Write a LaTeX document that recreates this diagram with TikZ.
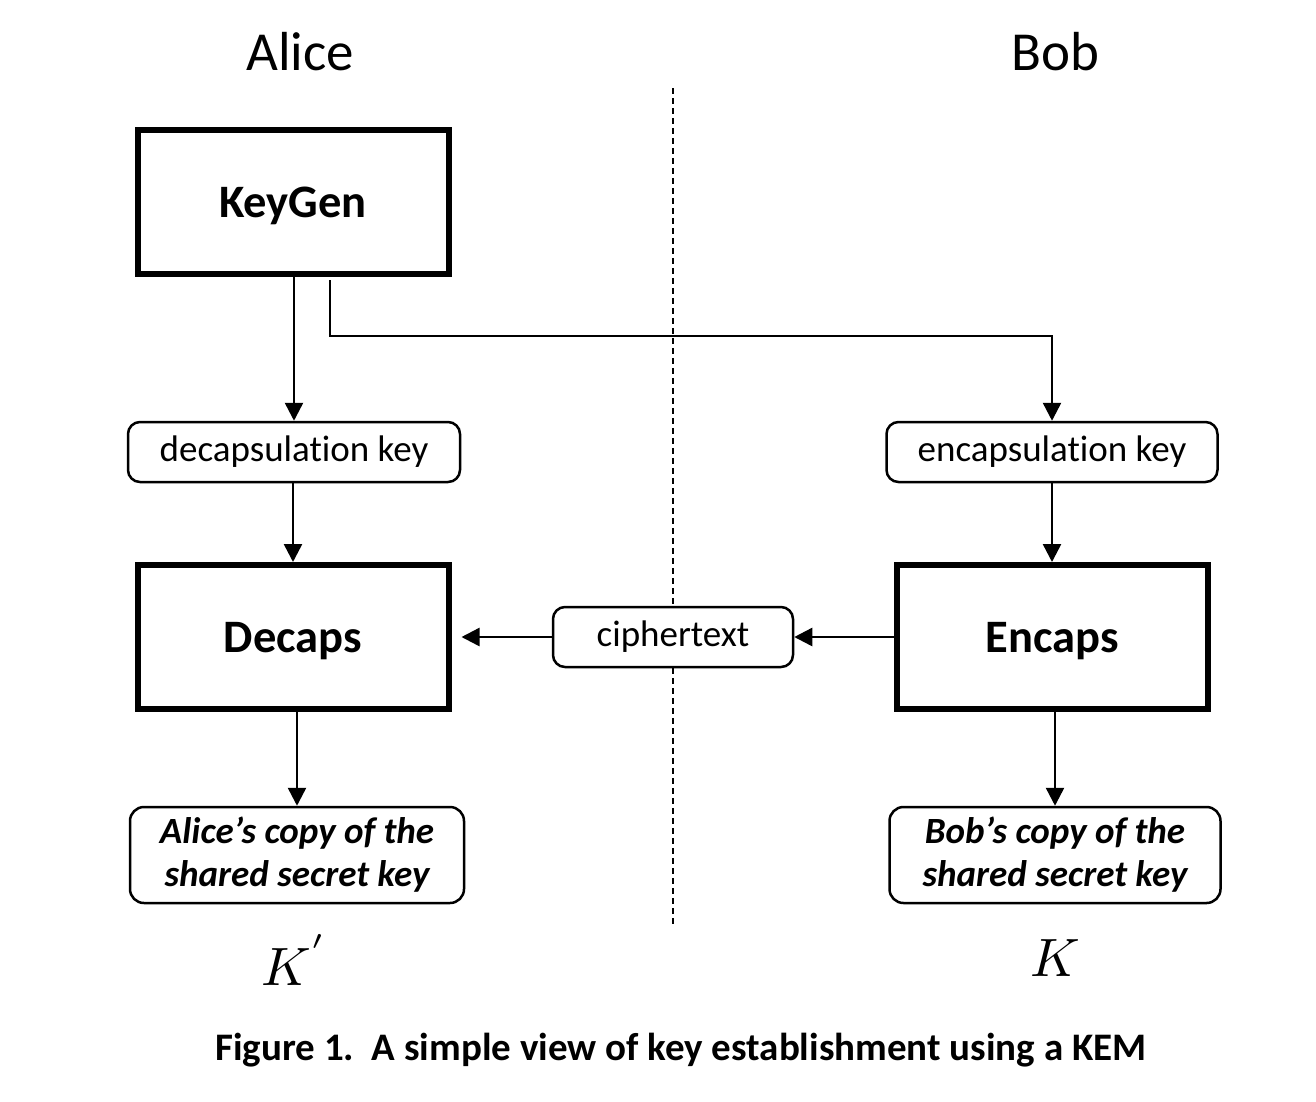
\documentclass[tikz,border=0pt]{standalone}
\usepackage{fontspec}
\setmainfont{Carlito}[Ligatures={NoCommon}]
\usetikzlibrary{arrows.meta}
\begin{document}
\begin{tikzpicture}[x=1pt,y=-1pt,
  bigbox/.style={draw,line width=6pt,minimum width=311pt,minimum height=144pt,inner sep=0pt,text depth=0pt,font=\fontsize{46.5}{52}\selectfont\bfseries},
  keybox/.style={draw,line width=2.5pt,rounded corners=12pt,minimum height=60pt,inner sep=0pt,font=\fontsize{37}{43}\selectfont},
  sharedbox/.style={draw,line width=2.5pt,rounded corners=14pt,minimum height=96pt,inner sep=0pt,align=center,font=\fontsize{37}{43}\selectfont\bfseries\itshape},
  conn/.style={line width=2.5pt,-{Triangle[length=18pt,width=18pt]}},
  party/.style={font=\fontsize{55}{60}\selectfont}
]
\useasboundingbox (0,0) rectangle (1316,1101);
\node[party] (alice) at (300,52) {Alice};
\node[party] (bob) at (1055,52) {Bob};
\coordinate (dtop) at (673,88);
\coordinate (dbot) at (673,925);
\draw[line width=1.5pt,dash pattern=on 6pt off 4pt] (dtop) -- (dbot);

\node[bigbox] (keygen) at (293,202) {KeyGen};
\node[keybox,minimum width=332pt] (dk) at (294,452) {decapsulation key};
\node[keybox,minimum width=331pt] (ek) at (1052,452) {encapsulation key};
\node[bigbox] (decaps) at (293,637) {Decaps};
\node[bigbox] (encaps) at (1052,637) {Encaps};
\node[keybox,fill=white,minimum width=240pt] (ct) at (673,637) {ciphertext};
\node[sharedbox,minimum width=334pt] (as) at (297,855) {Alice’s copy of the\\shared secret key};
\node[sharedbox,minimum width=331pt] (bs) at (1055,855) {Bob’s copy of the\\shared secret key};
\node (kp) at (295,960) {\scalebox{5.4}{$K^{'}$}};
\node (k) at (1055,958) {\scalebox{5.4}{$K$}};
\node (cap) at (681,1050) {\fontsize{39}{44}\selectfont\bfseries Figure 1.\hspace{0.45em}A simple view of key establishment using a KEM};

\draw[conn] (keygen.south -| dk.north) -- (dk.north);
\coordinate (kg2) at (330,280);
\draw[conn] (kg2) |- (ek.north |- 0,336) -- (ek.north);
\draw[conn] (dk.south -| decaps.north) -- (decaps.north);
\draw[conn] (ek.south) -- (ek.south |- encaps.north);
\draw[conn] (encaps.west) -- (ct.east);
\draw[conn,shorten >=10pt] (ct.west) -- (decaps.east);
\draw[conn] (decaps.south -| as.north) -- (as.north);
\draw[conn] (encaps.south -| bs.north) -- (bs.north);
\end{tikzpicture}
\end{document}
